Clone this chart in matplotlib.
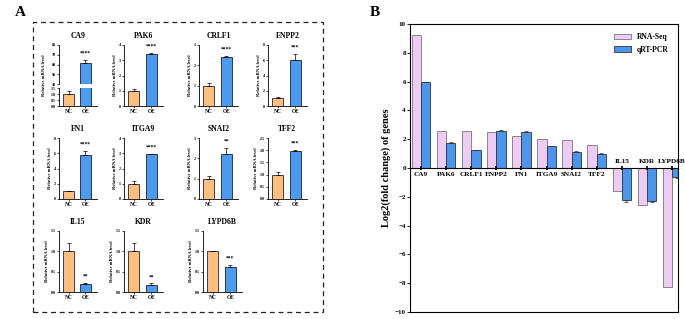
import numpy as np
import matplotlib
matplotlib.use("Agg")
import matplotlib.pyplot as plt
from matplotlib.patches import Rectangle, Patch

plt.rcParams['font.family'] = ['Liberation Serif', 'DejaVu Serif']
plt.rcParams['font.weight'] = 'bold'

# ---- panel A data (relative mRNA level, NC vs OE) ----
genes_a = ['CA9', 'PAK6', 'CRLF1', 'ENPP2', 'FN1', 'ITGA9', 'SNAI2', 'TFF2', 'IL15', 'KDR', 'LYPD6B']
nc_mean = [1.0, 1.0, 1.0, 1.0, 1.0, 1.0, 1.0, 1.0, 1.0, 1.0, 1.0]
nc_err = [0.25, 0.1, 0.12, 0.2, 0.05, 0.2, 0.15, 0.12, 0.2, 0.2, 0.005]
oe_mean = [62.0, 3.4, 2.4, 6.0, 5.8, 2.95, 2.2, 1.97, 0.2, 0.18, 0.62]
oe_err = [3.0, 0.1, 0.08, 0.8, 0.5, 0.03, 0.3, 0.03, 0.03, 0.03, 0.05]
stars = ['****', '****', '****', '***', '****', '****', '**', '***', '**', '**', '***']
y_max = [None, 4, 3, 8, 8, 4, 3, 2.5, 1.5, 1.5, 1.5]
y_step = [None, 1, 1, 2, 2, 1, 1, 0.5, 0.5, 0.5, 0.5]

# ---- panel B data (log2 fold change) ----
genes_b = ['CA9', 'PAK6', 'CRLF1', 'ENPP2', 'FN1', 'ITGA9', 'SNAI2', 'TFF2', 'IL15', 'KDR', 'LYPD6B']
rna_seq = [9.25, 2.6, 2.6, 2.5, 2.25, 2.0, 1.95, 1.6, -1.6, -2.55, -8.25]
qrt_pcr = [5.95, 1.75, 1.22, 2.55, 2.5, 1.52, 1.1, 0.97, -2.25, -2.3, -0.65]
qrt_err = [0.05, 0.05, 0.04, 0.12, 0.08, 0.04, 0.1, 0.04, 0.08, 0.08, 0.05]

W, H = 685, 319
fig = plt.figure(figsize=(W / 100, H / 100), dpi=100)

def px_axes(x0, y0, x1, y1):
    # pixel box (top-left origin) -> figure axes
    return fig.add_axes([x0 / W, 1 - y1 / H, (x1 - x0) / W, (y1 - y0) / H])

c_nc = '#FDBE7E'
c_oe = '#4B9BF2'
c_pink = '#EDCBF3'
c_blue = '#4A95EE'

fig.text(15 / W, 1 - 12 / H, 'A', fontsize=11, fontweight='bold', va='center')
fig.text(370 / W, 1 - 12 / H, 'B', fontsize=11, fontweight='bold', va='center')
fig.patches.append(Rectangle((33 / W, 1 - 312 / H), (323 - 33) / W, (312 - 22) / H,
                             transform=fig.transFigure, fill=False, ls=(0, (4, 3)),
                             lw=0.9, ec='#222222'))

cols = [(59, 97), (124, 163), (199, 238), (268, 307)]
rows = [(45, 106), (138, 199), (231, 292)]
boxes = []
for i in range(11):
    r, c = divmod(i, 4)
    boxes.append((cols[c][0], rows[r][0], cols[c][1], rows[r][1]))
boxes[10] = (203, 231, 242, 292)

def style_small(ax):
    for s in ['top', 'right']:
        ax.spines[s].set_visible(False)
    for s in ['left', 'bottom']:
        ax.spines[s].set_linewidth(0.6)
    ax.tick_params(axis='both', labelsize=3, width=0.5, length=1.5, pad=0.8)
    ax.set_xlim(-0.56, 1.68)

def draw_bars(ax, i):
    ax.bar([0, 1], [nc_mean[i], oe_mean[i]], width=0.65, color=[c_nc, c_oe],
           edgecolor='black', linewidth=0.5, zorder=2)
    ax.errorbar([0, 1], [nc_mean[i], oe_mean[i]], yerr=[[0, 0], [nc_err[i], oe_err[i]]],
                fmt='none', ecolor='black', elinewidth=0.5, capsize=1.5, capthick=0.5, zorder=3)

for i, g in enumerate(genes_a):
    x0, y0, x1, y1 = boxes[i]
    if i == 0:
        # broken axis for CA9
        ax_top = px_axes(x0, y0, x1, 84)
        ax_bot = px_axes(x0, 88, x1, y1)
        for ax in (ax_top, ax_bot):
            style_small(ax)
            draw_bars(ax, i)
        ax_top.set_ylim(40, 80)
        ax_top.set_yticks(np.arange(40, 81, 10))
        ax_top.spines['bottom'].set_visible(False)
        ax_top.set_xticks([])
        ax_bot.set_ylim(0, 1.5)
        ax_bot.set_yticks([0, 0.5, 1.0, 1.5])
        ax_bot.set_yticklabels(['0.0', '0.5', '1.0', '1.5'])
        ax_bot.set_xticks([0, 1])
        ax_bot.set_xticklabels(['NC', 'OE'], fontsize=4, fontweight='bold')
        ax_top.text(1, oe_mean[i] + oe_err[i] + 4, stars[i], ha='center', va='bottom', fontsize=4)
        ax_top.set_title(g, fontsize=5.5, fontweight='bold', pad=5)
        fig.text((x0 - 15) / W, 1 - (y0 + y1) / 2 / H, 'Relative mRNA level', rotation=90,
                 fontsize=3.3, fontweight='bold', ha='center', va='center')
        continue
    ax = px_axes(x0, y0, x1, y1)
    style_small(ax)
    draw_bars(ax, i)
    ax.set_ylim(0, y_max[i])
    ticks = np.arange(0, y_max[i] + 1e-9, y_step[i])
    ax.set_yticks(ticks)
    if y_step[i] < 1:
        ax.set_yticklabels([f'{t:.1f}' for t in ticks])
    else:
        ax.set_yticklabels([f'{t:.0f}' for t in ticks])
    ax.set_xticks([0, 1])
    ax.set_xticklabels(['NC', 'OE'], fontsize=4, fontweight='bold')
    ax.set_ylabel('Relative mRNA level', fontsize=3.3, fontweight='bold', labelpad=1.5)
    top = max(nc_mean[i] + nc_err[i], oe_mean[i] + oe_err[i]) if oe_mean[i] > 1 else oe_mean[i] + oe_err[i]
    ax.text(1, top + y_max[i] * 0.07, stars[i], ha='center', va='bottom', fontsize=4)
    ax.set_title(g, fontsize=5.5, fontweight='bold', pad=5)

# ---- panel B ----
axb = px_axes(410, 24, 678, 312)
x = np.arange(len(genes_b))
bw = 0.37
axb.bar(x - bw / 2, rna_seq, width=bw, color=c_pink, edgecolor='#777777', linewidth=0.6,
        label='RNA-Seq', zorder=2)
axb.bar(x + bw / 2, qrt_pcr, width=bw, color=c_blue, edgecolor='#333333', linewidth=0.6,
        label='qRT-PCR', zorder=2)
err_lo = [e if v < 0 else 0 for v, e in zip(qrt_pcr, qrt_err)]
err_hi = [e if v >= 0 else 0 for v, e in zip(qrt_pcr, qrt_err)]
axb.errorbar(x + bw / 2, qrt_pcr, yerr=[err_lo, err_hi], fmt='none', ecolor='#333333',
             elinewidth=0.5, capsize=1.5, capthick=0.5, zorder=3)
axb.axhline(0, color='black', lw=0.8, zorder=4)
axb.plot(x, np.zeros(len(x)), ls='none', marker='|', ms=3, mew=1.2, color='black', zorder=5)
axb.set_xlim(-0.44, 10.24)
axb.set_ylim(-10, 10)
axb.set_yticks(np.arange(-10, 11, 2))
axb.set_xticks([])
axb.tick_params(axis='y', labelsize=5, width=0.6, length=2, pad=1)
for s in axb.spines.values():
    s.set_linewidth(0.8)
for xi, g, v in zip(x, genes_b, rna_seq):
    if v >= 0:
        axb.text(xi, -0.3, g, ha='center', va='top', fontsize=5.2, fontweight='bold')
    else:
        axb.text(xi, 0.3, g, ha='center', va='bottom', fontsize=5.2, fontweight='bold')
axb.set_ylabel('Log2(fold change) of genes', fontsize=7.5, fontweight='bold', labelpad=3)
axb.legend(loc='upper right', fontsize=5.5, frameon=False, handlelength=2.2, handleheight=0.7,
           borderaxespad=0.8, labelspacing=0.6)

fig.savefig('out.png', dpi=100)
